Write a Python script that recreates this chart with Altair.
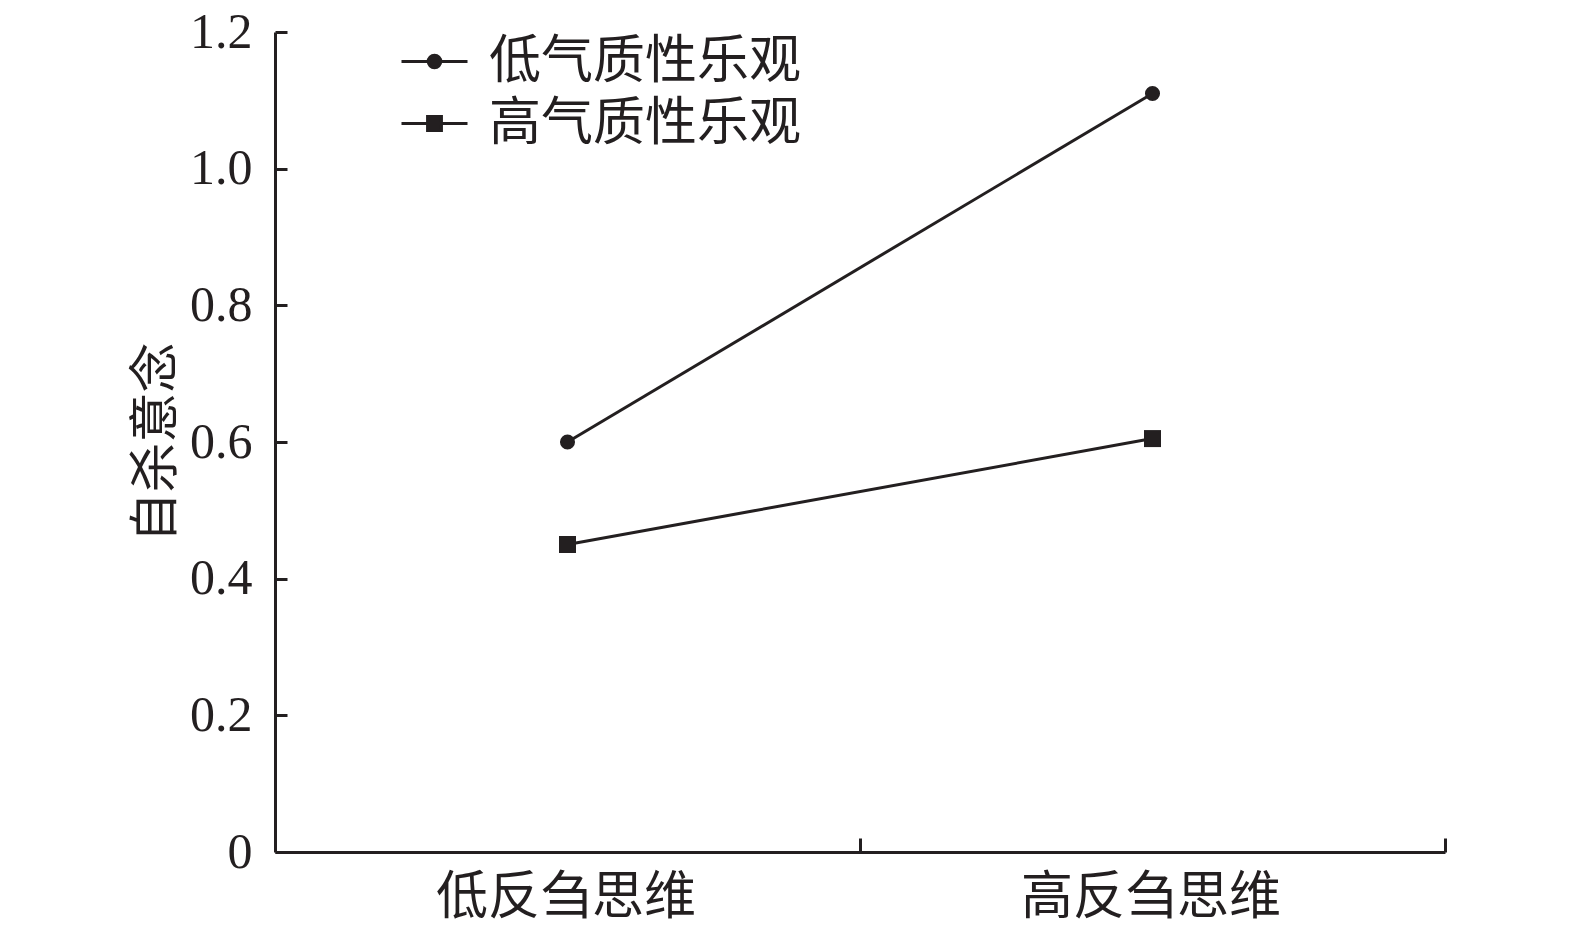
import altair as alt
import pandas as pd

# ---- data ----
x_categories = ['低反刍思维', '高反刍思维']
series_names = ['低气质性乐观', '高气质性乐观']
low_optimism = [0.60, 1.11]
high_optimism = [0.45, 0.605]
y_ticks = [0, 0.2, 0.4, 0.6, 0.8, 1.0, 1.2]
x_boundaries = [1, 2]

rows = []
for name, vals in zip(series_names, [low_optimism, high_optimism]):
    for i, (cat, v) in enumerate(zip(x_categories, vals)):
        rows.append({'组': name, '反刍': cat, 'pos': i + 0.5, '自杀意念': v})
df = pd.DataFrame(rows)

W, H = 1170, 820
INK = '#231f20'
SERIF = 'Liberation Serif'
CJK = 'Noto Sans CJK SC'

x_label_expr = " : ".join(
    f"datum.value == {b} ? '{c}'" for b, c in zip(x_boundaries, x_categories)
) + " : ''"

x_enc = alt.X(
    'pos:Q',
    scale=alt.Scale(domain=[0, 2], nice=False, zero=False),
    axis=alt.Axis(
        values=x_boundaries, title=None, labelExpr=x_label_expr,
        labelOffset=-W / 4 - 2, labelFlush=False, labelOverlap=False,
        labelLimit=1000,
        labelFont=CJK, labelFontSize=52, labelColor=INK, labelPadding=20,
        ticks=False, tickSize=0,
        domain=True, domainColor=INK, domainWidth=3,
        grid=True, gridColor=INK, gridWidth=3, gridOpacity=1,
        gridDash=[14, H - 14], gridDashOffset=14,
    ),
)

y_enc = alt.Y(
    '自杀意念:Q',
    scale=alt.Scale(domain=[0, 1.2], nice=False),
    axis=alt.Axis(
        values=y_ticks,
        labelExpr="datum.value == 0 ? '0' : format(datum.value, '.1f')",
        labelFont=SERIF, labelFontSize=50, labelColor=INK, labelPadding=23,
        ticks=False, tickSize=0,
        domain=True, domainColor=INK, domainWidth=3,
        grid=True, gridColor=INK, gridWidth=3, gridOpacity=1,
        gridDash=[12, 4000],
        title='自杀意念', titleFont=CJK, titleFontSize=50,
        titleFontWeight='normal', titleColor=INK, titlePadding=8,
    ),
)

base = alt.Chart(df)

lines = base.mark_line(color=INK, strokeWidth=3).encode(
    x=x_enc, y=y_enc, detail='组:N'
)
circles = base.transform_filter(alt.datum['组'] == series_names[0]).mark_point(
    shape='circle', filled=True, size=227, color=INK, opacity=1
).encode(x=x_enc, y=y_enc)
squares = base.transform_filter(alt.datum['组'] == series_names[1]).mark_point(
    shape='square', filled=True, size=289, color=INK, opacity=1
).encode(x=x_enc, y=y_enc)

path_circle = "M-1,0L1,0M-0.19,0A0.19,0.19,0,1,1,0.19,0A0.19,0.19,0,1,1,-0.19,0Z"
path_square = "M-1,0L1,0M-0.21,-0.21L0.21,-0.21L0.21,0.21L-0.21,0.21Z"

legend_layer = base.mark_point(
    filled=True, fill=INK, stroke=INK, strokeWidth=3, opacity=0
).encode(
    x=x_enc, y=y_enc,
    shape=alt.Shape(
        '组:N',
        scale=alt.Scale(domain=series_names, range=[path_circle, path_square]),
        legend=alt.Legend(
            orient='none', legendX=125, legendY=-5, title=None,
            symbolSize=4356, symbolStrokeWidth=3, symbolOpacity=1,
            labelFont=CJK, labelFontSize=52, labelColor=INK,
            labelOffset=20, labelLimit=1000, rowPadding=1, padding=0,
        ),
    ),
)

chart = alt.layer(lines, circles, squares, legend_layer).properties(
    width=W, height=H,
    autosize=alt.AutoSizeParams(type='none'),
    padding={'left': 267, 'top': 24, 'right': 100, 'bottom': 84},
).configure(background='white').configure_view(
    stroke='transparent', strokeWidth=0
)

chart.save("out.html", embed_options={"renderer": "svg", "actions": False})
